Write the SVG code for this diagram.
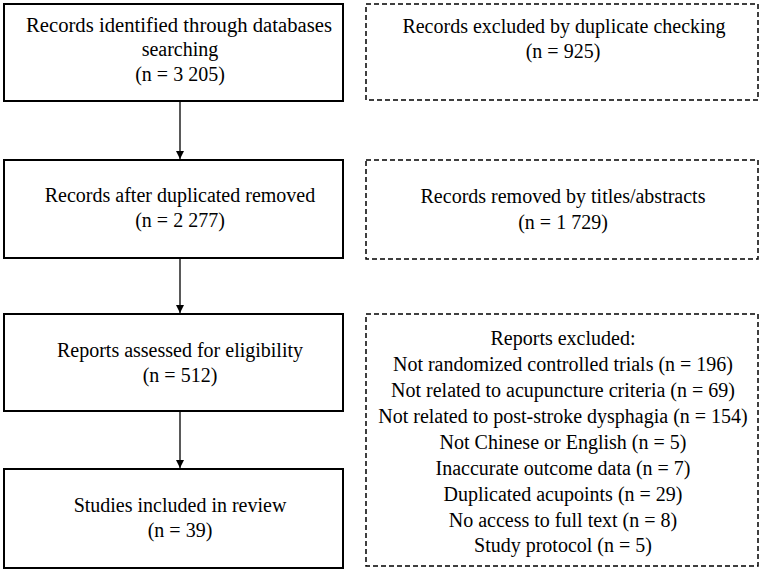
<svg xmlns="http://www.w3.org/2000/svg" width="767" height="572" viewBox="0 0 767 572">
<defs>
<style>
.box{fill:#fff;stroke:#000;stroke-width:2}
.dbox{fill:#fff;stroke:#000;stroke-width:1.5;stroke-dasharray:5 3}
text{font-family:"Liberation Serif","Times New Roman",serif;font-size:20px;fill:#000;text-anchor:middle}
.edge{stroke:#000;stroke-width:1.3;fill:none}
</style>
<marker id="ah" viewBox="0 0 10 10" refX="10" refY="5" markerWidth="8" markerHeight="9" markerUnits="userSpaceOnUse" orient="auto">
<path d="M0,0 L10,5 L0,10 Z" fill="#000"/>
</marker>
</defs>
<rect width="767" height="572" fill="#fff"/>
<g id="n1"><rect class="box" x="4" y="4" width="339" height="97"/>
<text x="179" y="32" textLength="306" lengthAdjust="spacingAndGlyphs">Records identified through databases</text>
<text x="180" y="56">searching</text>
<text x="180" y="81">(n = 3 205)</text></g>
<g id="n2"><rect class="dbox" x="366" y="4" width="392" height="96"/>
<text x="564" y="33">Records excluded by duplicate checking</text>
<text x="563" y="58">(n = 925)</text></g>
<g id="n3"><rect class="box" x="4" y="160" width="339" height="98"/>
<text x="180" y="202">Records after duplicated removed</text>
<text x="180" y="227">(n = 2 277)</text></g>
<g id="n4"><rect class="dbox" x="366" y="160" width="392" height="99"/>
<text x="563" y="203">Records removed by titles/abstracts</text>
<text x="563" y="229">(n = 1 729)</text></g>
<g id="n5"><rect class="box" x="4" y="314" width="339" height="97"/>
<text x="180" y="357">Reports assessed for eligibility</text>
<text x="180" y="382">(n = 512)</text></g>
<g id="n6"><rect class="dbox" x="366" y="314" width="392" height="252"/>
<text x="563" y="345">Reports excluded:</text>
<text x="563" y="371">Not randomized controlled trials (n = 196)</text>
<text x="563" y="397">Not related to acupuncture criteria (n = 69)</text>
<text x="563" y="423">Not related to post-stroke dysphagia (n = 154)</text>
<text x="563" y="449">Not Chinese or English (n = 5)</text>
<text x="563" y="475">Inaccurate outcome data (n = 7)</text>
<text x="563" y="501">Duplicated acupoints (n = 29)</text>
<text x="563" y="527">No access to full text (n = 8)</text>
<text x="563" y="552">Study protocol (n = 5)</text></g>
<g id="n7"><rect class="box" x="4" y="469" width="339" height="99"/>
<text x="180" y="512">Studies included in review</text>
<text x="180" y="537">(n = 39)</text></g>
<g id="edges">
<line class="edge" x1="180" y1="102" x2="180" y2="159" marker-end="url(#ah)"/>
<line class="edge" x1="180" y1="259" x2="180" y2="313" marker-end="url(#ah)"/>
<line class="edge" x1="180" y1="412" x2="180" y2="468" marker-end="url(#ah)"/>
</g>
</svg>
